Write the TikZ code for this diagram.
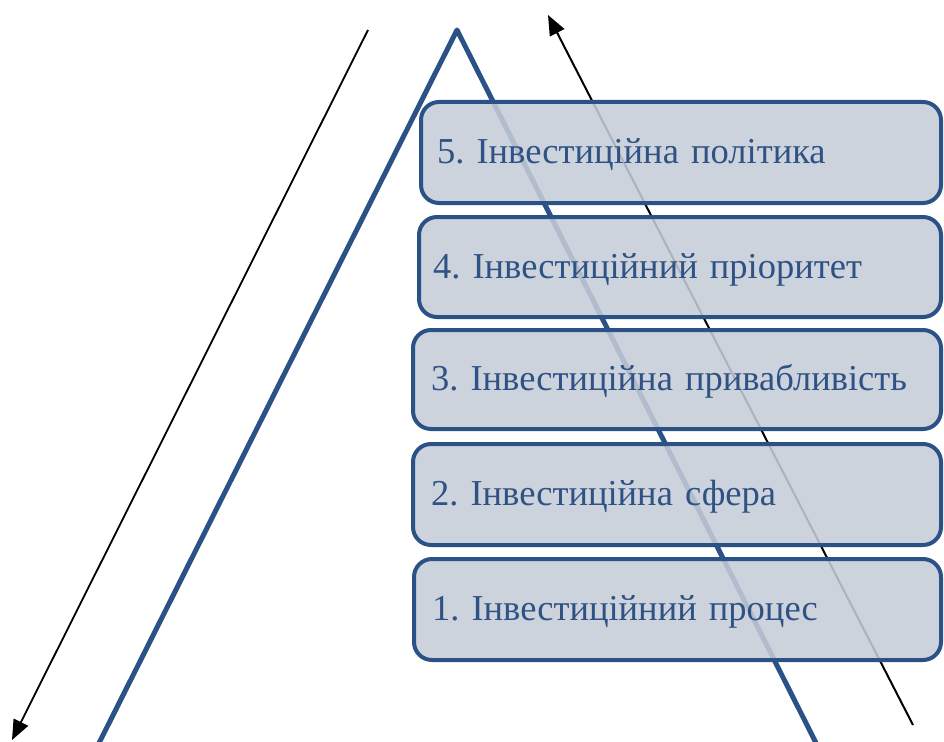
\documentclass[tikz,border=0pt]{standalone}
\usepackage{fontspec}
\setmainfont{Liberation Serif}
\usetikzlibrary{arrows.meta}
\definecolor{edgeblue}{RGB}{42,82,134}
\definecolor{textblue}{RGB}{46,82,132}
\definecolor{boxfill}{RGB}{198,204,215}
\tikzset{
  triline/.style={draw=edgeblue, line width=5pt, line join=round},
  arrowline/.style={draw=black, line width=2pt, -{Triangle[length=20pt,width=16pt]}},
  levelbox/.style={draw=edgeblue, line width=4pt, rounded corners=18pt,
    fill=boxfill, fill opacity=0.87, text opacity=1, text=textblue,
    font=\rmfamily\fontsize{36.5}{44}\selectfont\frenchspacing, align=left,
    text height=28pt, text depth=6pt, inner ysep=0pt, inner xsep=0pt}
}
\begin{document}
\begin{tikzpicture}[x=1pt,y=-1pt]
\useasboundingbox (0,0) rectangle (944,741);
% triangle
\coordinate (tl) at (90.5,760);
\coordinate (apex) at (457,30);
\coordinate (tr) at (824.6,760);
\draw[triline] (tl) -- (apex) -- (tr);
% right arrow (behind boxes)
\coordinate (ra1) at (913,725);
\coordinate (ra2) at (548,15);
\draw[arrowline] (ra1) -- (ra2);
% boxes
\node[levelbox, minimum width=520pt, minimum height=101pt, text width=488pt] (b5) at (681,152.5) {5. Інвестиційна політика};
\node[levelbox, minimum width=522pt, minimum height=100pt, text width=494pt] (b4) at (680,267) {4. Інвестиційний пріоритет};
\node[levelbox, minimum width=528pt, minimum height=99pt, text width=492pt] (b3) at (677,379.5) {3. Інвестиційна привабливість};
\node[levelbox, minimum width=528pt, minimum height=101pt, text width=492pt] (b2) at (677,494.5) {2. Інвестиційна сфера};
\node[levelbox, minimum width=527pt, minimum height=101pt, text width=491pt] (b1) at (677.5,609.5) {1. Інвестиційний процес};
% left arrow
\coordinate (la1) at (368,30);
\coordinate (la2) at (12,740);
\draw[arrowline, line width=1.8pt] (la1) -- (la2);
\end{tikzpicture}
\end{document}
